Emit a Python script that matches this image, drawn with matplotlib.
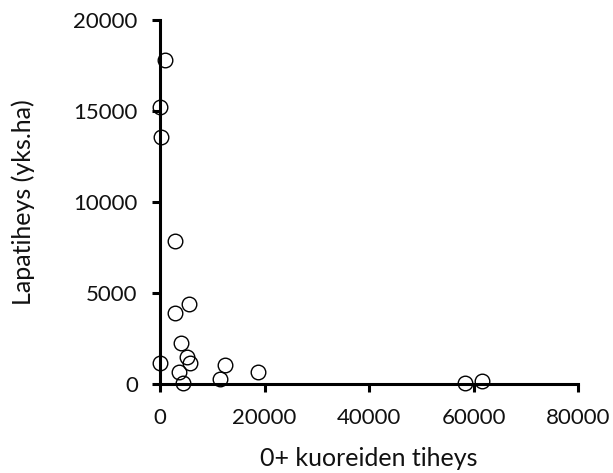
import matplotlib
matplotlib.use("Agg")
import matplotlib.pyplot as plt

# 0+ smelt density vs. shoveled (?) density
kuore_tiheys = [960, 0, 200, 2870, 5550, 2870, 4000, 5100, 5740, 0,
                3700, 4350, 12380, 11480, 18800, 58370, 61700]
lapa_tiheys = [17800, 15220, 13570, 7860, 4400, 3900, 2250, 1480, 1150, 1170,
               680, 50, 1040, 270, 660, 50, 170]

x_ticks = [0, 20000, 40000, 60000, 80000]
y_ticks = [0, 5000, 10000, 15000, 20000]

plt.rcParams['font.family'] = ['Lato', 'DejaVu Sans']

fig = plt.figure(figsize=(6.13, 4.73), dpi=100)
ax = fig.add_axes([0.261, 0.188, 0.682, 0.770])

ax.plot(kuore_tiheys, lapa_tiheys, "o", markersize=10.5, markerfacecolor="none",
        markeredgecolor="black", markeredgewidth=1.0, clip_on=False, zorder=3)

ax.set_xlim(0, 80000)
ax.set_ylim(0, 20000)
ax.set_xticks(x_ticks)
ax.set_yticks(y_ticks)

for side in ("top", "right"):
    ax.spines[side].set_visible(False)
for side in ("left", "bottom"):
    ax.spines[side].set_linewidth(2.2)

ax.tick_params(direction="out", length=6, width=2.2, labelsize=16,
               colors="black", labelcolor="#111111")
ax.tick_params(axis="y", pad=10)
ax.tick_params(axis="x", pad=11)

ax.set_xlabel("0+ kuoreiden tiheys", fontsize=18, color="#111111", labelpad=14)
ax.set_ylabel("Lapatiheys (yks.ha)", fontsize=18, color="#111111", labelpad=28)

fig.savefig("out.png", dpi=100)
